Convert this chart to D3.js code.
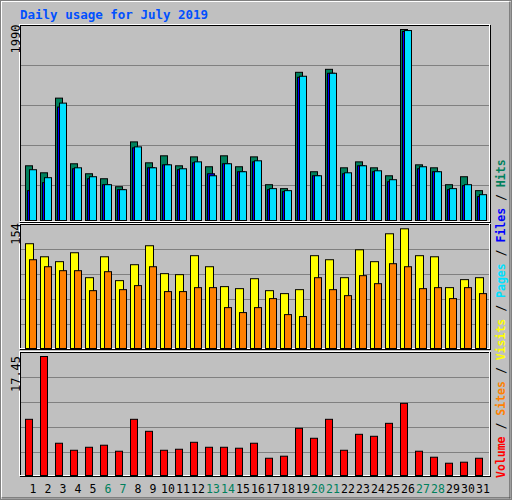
<!DOCTYPE html>
<html><head><meta charset="utf-8">
<script src="https://cdn.jsdelivr.net/npm/d3@7"></script>
<style>body{margin:0;background:#fff}svg{display:block}</style>
</head><body>
<script>
const days = d3.range(1,32);
const weekends = [6,7,13,14,20,21,27,28];
const hits  = [570,497,1275,591,487,435,352,819,601,674,570,663,560,674,560,663,373,332,1544,508,1575,549,611,549,466,1990,580,549,373,456,311];
const files = [311,394,1182,539,435,373,321,757,549,580,529,601,487,591,508,611,321,300,1492,466,1534,487,570,508,404,1969,539,508,321,363,249];
const pages = [529,446,1223,549,456,373,321,767,549,580,539,611,466,591,508,622,332,311,1503,466,1534,497,570,518,425,1979,560,508,332,373,269];
const visits= [134.8,118,111.7,123.2,91.1,118,87.3,107.8,132.2,96.3,95,119.4,105.2,79.6,77,89.8,74.4,70.6,75.7,119.4,114.2,91.1,127,111.7,147.6,154,119.4,118,78.3,88.6,91.1];
const sites = [114.2,105.2,100.1,100.1,74.4,98.8,75.7,80.9,105.2,73.2,73.2,78.3,78.3,52.6,46.2,52.6,64.2,43.6,41.1,91.1,75.7,68,93.7,83.4,109.1,105.2,77,78.3,64.2,78.3,70.6];
const volume= [8.24,17.45,4.73,3.70,4.14,4.44,3.56,8.24,6.48,3.70,3.85,4.87,4.14,4.14,4.00,4.73,2.53,2.83,6.92,5.46,8.24,3.70,6.04,5.75,7.65,10.58,3.56,2.68,1.80,1.95,2.53];
const maxLabels = ["1990","154","17.45"];
const title = "Daily usage for July 2019";
const legend = [["Volume","#ff0000"],["Sites","#ff8000"],["Visits","#ffff00"],["Pages","#00e0ff"],["Files","#0000ff"],["Hits","#00805c"]];

const W=512,H=500;
const svg=d3.select("body").append("svg").attr("width",W).attr("height",H);
svg.append("rect").attr("width",W).attr("height",H).attr("fill","#c0c0c0");
svg.append("rect").attr("x",0.5).attr("y",0.5).attr("width",W-1).attr("height",H-1).attr("fill","none").attr("stroke","#808080");
svg.append("rect").attr("x",1.5).attr("y",1.5).attr("width",W-3).attr("height",H-3).attr("fill","none").attr("stroke","#fff");
svg.append("rect").attr("x",W-2.5).attr("y",1.5).attr("width",1).attr("height",H-3).attr("fill","#404040");
svg.append("rect").attr("x",1.5).attr("y",H-2.5).attr("width",W-3).attr("height",1).attr("fill","#404040");

svg.append("text").attr("x",20).attr("y",19).text(title)
  .attr("font-family","DejaVu Sans Mono").attr("font-weight","bold").attr("font-size",12.5).attr("fill","#0050ff");

const x=d3.scaleLinear().domain([1,32]).range([25,25+15*31]);
const font="DejaVu Sans Mono";

function panel(y0,y1,base,max,grids,label){
  svg.append("rect").attr("x",20.5).attr("y",y0+0.5).attr("width",470).attr("height",y1-y0)
    .attr("fill","none").attr("stroke","#000");
  svg.append("rect").attr("x",19.5).attr("y",y0-0.5).attr("width",470).attr("height",y1-y0)
    .attr("fill","none").attr("stroke","#fff");
  grids.forEach(g=>svg.append("line").attr("x1",21).attr("x2",489).attr("y1",g+0.5).attr("y2",g+0.5).attr("stroke","#808080"));
  return d3.scaleLinear().domain([0,max]);
}
function bars(data,y,off,w,color){
  svg.append("g").selectAll("rect").data(data).join("rect")
    .attr("x",(d,i)=>x(i+1)+off+0.5).attr("y",d=>y(d)+0.5)
    .attr("width",w).attr("height",d=>y(0)-y(d))
    .attr("fill",color).attr("stroke","#000");
}
function ylab(txt,cx,cy){
  svg.append("text").attr("transform",`translate(${cx},${cy}) rotate(-90)`).attr("text-anchor","middle")
   .attr("font-family",font).attr("font-size",12).attr("fill","#000").text(txt);
}
// top
panel(25,222,221,1990,[65,105,145,185]);
const y1=d3.scaleLinear().domain([0,1990]).range([220,29]);
bars(hits,y1,0,7,"#00805c");
bars(files,y1,2,7,"#0000ff");
bars(pages,y1,4,7,"#00e0ff");
ylab(maxLabels[0],20,39);
// middle
panel(224,349,348,154,[249,274,299,324]);
const y2=d3.scaleLinear().domain([0,154]).range([348,228.3]);
bars(visits,y2,0,8,"#ffff00");
bars(sites,y2,4,7,"#ff8000");
ylab(maxLabels[1],20,234);
// bottom
panel(352,476,475,17.45,[377,402,427,452]);
const y3=d3.scaleLinear().domain([0,17.45]).range([475,356]);
bars(volume,y3,0,7,"#ff0000");
ylab(maxLabels[2],20,374);

svg.append("g").selectAll("text").data(days).join("text")
  .attr("x",d=>x(d)+8).attr("y",493).attr("text-anchor","middle")
  .attr("font-family",font).attr("font-size",11.5)
  .attr("fill",d=>weekends.includes(d)?"#00805c":"#000").text(d=>d);

const lt=svg.append("text").attr("transform","translate(505,478) rotate(-90)")
  .attr("font-family",font).attr("font-size",11.5).attr("font-weight","bold");
legend.forEach((l,i)=>{
  if(i>0) lt.append("tspan").attr("fill","#000").text(" / ");
  lt.append("tspan").attr("fill",l[1]).text(l[0]);
});
</script>
</body></html>
